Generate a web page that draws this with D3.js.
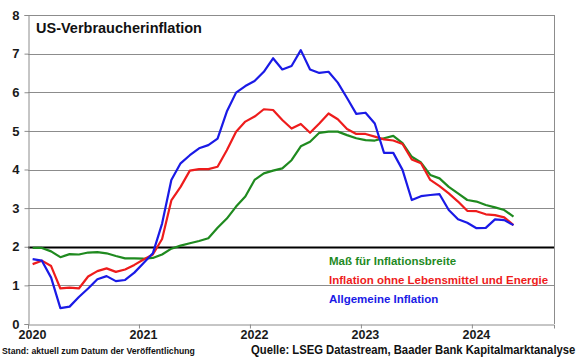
<!DOCTYPE html>
<html>
<head>
<meta charset="utf-8">
<script src="https://cdn.jsdelivr.net/npm/d3@7"></script>
<style>
  body { margin: 0; background: #fff; }
  svg { display: block; font-family: Arial, "Liberation Sans", sans-serif; }
</style>
</head>
<body>
<div class="chart"></div>
<script>
// monthly values, Jan 2020 - May 2024
var startYear = 2020;
var yearTicks = [2020, 2021, 2022, 2023, 2024];
var valueTicks = [0, 1, 2, 3, 4, 5, 6, 7, 8];

var breite = [1.97, 1.97, 1.88, 1.73, 1.81, 1.80, 1.85, 1.86, 1.83, 1.76, 1.70, 1.70,
  1.69, 1.71, 1.80, 1.95, 2.03, 2.09, 2.15, 2.22, 2.49, 2.73, 3.04, 3.30,
  3.73, 3.90, 3.97, 4.03, 4.24, 4.60, 4.72, 4.95, 4.98, 4.98, 4.89, 4.81,
  4.76, 4.75, 4.81, 4.87, 4.68, 4.33, 4.18, 3.86, 3.77, 3.55, 3.38, 3.21,
  3.17, 3.08, 3.02, 2.95, 2.78];

var kern = [1.55, 1.64, 1.50, 0.92, 0.94, 0.92, 1.23, 1.37, 1.44, 1.35, 1.41, 1.53,
  1.67, 1.80, 2.20, 3.20, 3.55, 3.97, 4.01, 4.01, 4.07, 4.50, 4.98, 5.24,
  5.37, 5.56, 5.54, 5.28, 5.06, 5.18, 4.95, 5.19, 5.45, 5.30, 5.05, 4.92,
  4.92, 4.85, 4.78, 4.75, 4.66, 4.26, 4.16, 3.73, 3.57, 3.38, 3.17, 2.93,
  2.92, 2.84, 2.82, 2.76, 2.56];

var gesamt = [1.68, 1.64, 1.20, 0.41, 0.45, 0.70, 0.92, 1.16, 1.24, 1.11, 1.14, 1.33,
  1.58, 1.83, 2.60, 3.73, 4.16, 4.37, 4.55, 4.63, 4.80, 5.50, 5.99, 6.16,
  6.29, 6.53, 6.88, 6.59, 6.68, 7.09, 6.59, 6.50, 6.53, 6.25, 5.85, 5.44,
  5.47, 5.19, 4.43, 4.43, 3.99, 3.21, 3.31, 3.34, 3.36, 2.95, 2.71, 2.62,
  2.48, 2.49, 2.71, 2.69, 2.56];

var seriesNames = ["Maß für Inflationsbreite", "Inflation ohne Lebensmittel und Energie", "Allgemeine Inflation"];

var svgWidth = 580, svgHeight = 359;
var margin = { top: 15, right: 26, bottom: 35, left: 28 };
var width = svgWidth - margin.left - margin.right;
var height = svgHeight - margin.top - margin.bottom;

var svg = d3.select(".chart")
  .append("svg")
  .attr("width", svgWidth)
  .attr("height", svgHeight);

var chartGroup = svg.append("g")
  .attr("transform", `translate(${margin.left}, ${margin.top})`);

// scales
var x = d3.scaleLinear()
  .domain([2020, 2024.74])
  .range([0, width]);

var y = d3.scaleLinear()
  .domain([0, 8])
  .range([height, 0]);

// grid lines
chartGroup.selectAll(".grid")
  .data(valueTicks.filter(d => d > 0))
  .enter()
  .append("line")
  .attr("x1", 0)
  .attr("x2", width)
  .attr("y1", d => Math.round(y(d)) + 0.5)
  .attr("y2", d => Math.round(y(d)) + 0.5)
  .attr("stroke", d => d == 2 ? "#000" : "#8c8c8c")
  .attr("stroke-width", d => d == 2 ? 2 : 1);

// right border
chartGroup.append("line")
  .attr("x1", width + 0.5).attr("x2", width + 0.5)
  .attr("y1", 0).attr("y2", height)
  .attr("stroke", "#8c8c8c");

// axes
var yAxis = d3.axisLeft(y).tickValues(valueTicks).tickSize(4).tickPadding(5);
var xAxis = d3.axisBottom(x).tickValues(yearTicks).tickFormat(d3.format("d")).tickSize(4).tickPadding(2);

var gy = chartGroup.append("g").attr("transform", "translate(0.5,0)").call(yAxis);
var gx = chartGroup.append("g").attr("transform", `translate(0,${height + 0.5})`).call(xAxis);

[gx, gy].forEach(function (g) {
  g.select(".domain").attr("stroke", "#8c8c8c");
  g.selectAll(".tick line").attr("stroke", "#8c8c8c");
  g.selectAll("text")
    .attr("fill", "#1a1a1a")
    .style("font-size", "13px")
    .style("font-weight", "bold");
});
gx.selectAll("text").attr("dx", "4").style("font-size", "12.5px");

// lines
var line = d3.line()
  .x((d, i) => x(startYear + (i + 0.5) / 12))
  .y(d => y(d));

var series = [
  { values: breite, color: "#1f8a1f" },
  { values: kern, color: "#ee1c1c" },
  { values: gesamt, color: "#1a1ae6" }
];

chartGroup.selectAll(".series")
  .data(series)
  .enter()
  .append("path")
  .attr("d", d => line(d.values))
  .attr("fill", "none")
  .attr("stroke", d => d.color)
  .attr("stroke-width", 2.2)
  .attr("stroke-linejoin", "round");

// title
svg.append("text")
  .attr("x", 36)
  .attr("y", 33)
  .attr("fill", "#111")
  .style("font-size", "14.5px")
  .style("font-weight", "bold")
  .text("US-Verbraucherinflation");

// legend
svg.selectAll(".legend")
  .data(seriesNames)
  .enter()
  .append("text")
  .attr("x", 329)
  .attr("y", (d, i) => 265 + i * 19)
  .attr("fill", (d, i) => series[i].color)
  .style("font-size", "11.5px")
  .style("font-weight", "bold")
  .text(d => d);

// footer, squeezed horizontally to the reference width
function footer(txt, x0, y0, size, w) {
  var t = svg.append("text")
    .attr("fill", "#111")
    .style("font-size", size)
    .style("font-weight", "bold")
    .text(txt);
  var len = t.node().getComputedTextLength();
  t.attr("transform", `translate(${x0},${y0}) scale(${Math.min(1, w / len)},1)`);
}
footer("Stand: aktuell zum Datum der Veröffentlichung", 2, 354, "9.5px", 193);
footer("Quelle: LSEG Datastream, Baader Bank Kapitalmarktanalyse", 251, 354, "12px", 325);
</script>
</body>
</html>
